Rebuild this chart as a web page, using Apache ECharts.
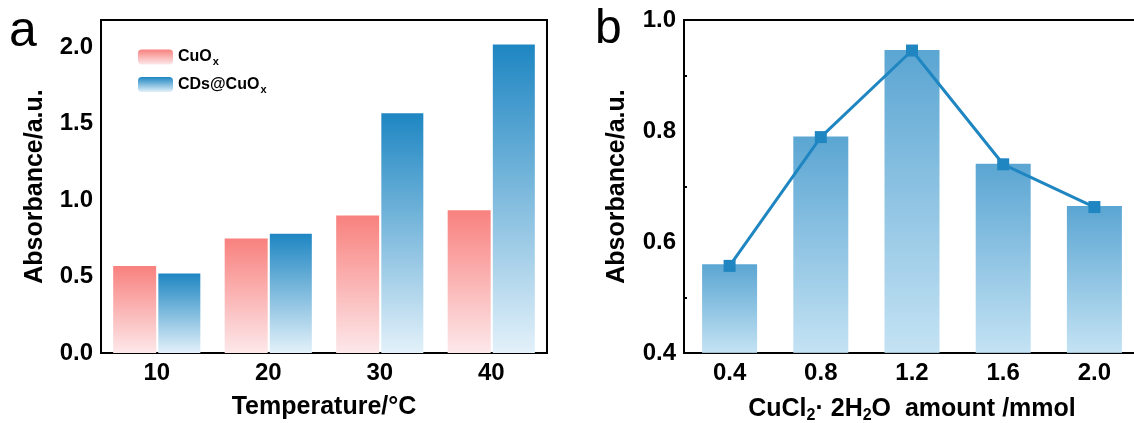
<!DOCTYPE html>
<html>
<head>
<meta charset="utf-8">
<script src="https://cdn.jsdelivr.net/npm/echarts@6/dist/echarts.min.js"></script>
<style>
  html, body { margin: 0; padding: 0; background: #fff; }
  #chart { width: 1134px; height: 423px; }
</style>
</head>
<body>
<div id="chart"></div>
<script>
'use strict';
// panel a
var temps = ['10', '20', '30', '40'];
var cuoxVals = [0.57, 0.75, 0.90, 0.935];
var cdsVals = [0.52, 0.78, 1.57, 2.02];
var yTicksA = [0, 0.5, 1.0, 1.5, 2.0];

// panel b
var amounts = ['0.4', '0.8', '1.2', '1.6', '2.0'];
var barVals = [0.560, 0.790, 0.946, 0.741, 0.665];
var lineVals = [0.557, 0.789, 0.945, 0.740, 0.663];
var yTicksB = [0.4, 0.6, 0.8, 1.0];

var FONT = 'Liberation Sans';

function grad(top, bottom) {
    return new echarts.graphic.LinearGradient(0, 0, 0, 1, [
        { offset: 0, color: top },
        { offset: 1, color: bottom }
    ]);
}

function init() {
    var chart = echarts.init(document.getElementById('chart'));
    var labelStyle = { fontFamily: FONT, fontWeight: 'bold', fontSize: 24, color: '#000' };
    var nameStyle = { fontFamily: FONT, fontWeight: 'bold', fontSize: 25, color: '#000' };
    var line = { show: true, onZero: false, lineStyle: { color: '#000', width: 2 } };

    var option = {
        animation: false,
        graphic: [
            { type: 'text', left: 9, top: 7, style: { text: 'a', font: '50px ' + FONT, fill: '#000' } },
            { type: 'text', left: 595, top: 6, style: { text: 'b', font: '48px ' + FONT, fill: '#000' } }
        ],
        legend: {
            orient: 'vertical',
            left: 133,
            top: 44,
            itemWidth: 35,
            itemHeight: 15,
            itemGap: 9,
            data: ['CuOx', 'CDs@CuOx'],
            formatter: function (n) {
                return n === 'CuOx' ? '{m|CuO}{s|x}' : '{m|CDs@CuO}{s|x}';
            },
            textStyle: {
                rich: {
                    m: { fontFamily: FONT, fontWeight: 'bold', fontSize: 16, color: '#000' },
                    s: { fontFamily: FONT, fontWeight: 'bold', fontSize: 11, color: '#000', padding: [10, 0, 0, 1] }
                }
            }
        },
        grid: [
            { left: 101, top: 20, width: 446, height: 333, show: true, borderColor: '#000', borderWidth: 2, outerBoundsMode: 'none' },
            { left: 684, top: 20, width: 456, height: 333, show: true, borderColor: '#000', borderWidth: 2, outerBoundsMode: 'none' }
        ],
        xAxis: [
            {
                type: 'category', gridIndex: 0, data: temps,
                axisLine: line,
                axisTick: { inside: true, alignWithLabel: true, length: 5, lineStyle: { color: '#000', width: 2 } },
                axisLabel: Object.assign({ margin: 8 }, labelStyle),
                name: 'Temperature/°C', nameLocation: 'middle', nameGap: 42, nameTextStyle: nameStyle
            },
            {
                type: 'category', gridIndex: 0, data: temps, position: 'bottom',
                axisLine: { show: false },
                axisTick: { inside: true, length: 3, lineStyle: { color: '#000', width: 2 } },
                axisLabel: { show: false }
            },
            {
                type: 'category', gridIndex: 1, data: amounts,
                axisLine: line,
                axisTick: { inside: true, alignWithLabel: true, length: 5, lineStyle: { color: '#000', width: 2 } },
                axisLabel: Object.assign({ margin: 8 }, labelStyle),
                name: '{m|CuCl}{s|2}{m|· 2H}{s|2}{m|O  amount /mmol}', nameLocation: 'middle', nameGap: 41,
                nameTextStyle: {
                    rich: {
                        m: nameStyle,
                        s: { fontFamily: FONT, fontWeight: 'bold', fontSize: 16, color: '#000', padding: [14, 0, 0, 0] }
                    }
                }
            },
            {
                type: 'category', gridIndex: 1, data: amounts, position: 'bottom',
                axisLine: { show: false },
                axisTick: { inside: true, length: 3, lineStyle: { color: '#000', width: 2 } },
                axisLabel: { show: false }
            }
        ],
        yAxis: [
            {
                type: 'value', gridIndex: 0, min: 0, max: 2.18, interval: 0.5,
                axisLine: line, splitLine: { show: false },
                axisTick: { inside: true, length: 5, lineStyle: { color: '#000', width: 2 } },
                axisLabel: Object.assign({
                    margin: 8,
                    formatter: function (v) {
                        return yTicksA.some(function (t) { return Math.abs(t - v) < 1e-6; }) ? v.toFixed(1) : '';
                    }
                }, labelStyle),
                name: 'Absorbance/a.u.', nameLocation: 'middle', nameGap: 53, nameTextStyle: nameStyle
            },
            {
                type: 'value', gridIndex: 0, min: 0, max: 2.18, interval: 0.25, position: 'left',
                axisLine: { show: false }, splitLine: { show: false }, axisLabel: { show: false },
                axisTick: { inside: true, length: 3, lineStyle: { color: '#000', width: 2 } }
            },
            {
                type: 'value', gridIndex: 1, min: 0.4, max: 1.0, interval: 0.2,
                axisLine: line, splitLine: { show: false },
                axisTick: { inside: true, length: 5, lineStyle: { color: '#000', width: 2 } },
                minorTick: { show: true, splitNumber: 2, length: 3, lineStyle: { color: '#000', width: 2 } },
                axisLabel: Object.assign({
                    margin: 8,
                    formatter: function (v) {
                        return yTicksB.some(function (t) { return Math.abs(t - v) < 1e-6; }) ? v.toFixed(1) : '';
                    }
                }, labelStyle),
                name: 'Absorbance/a.u.', nameLocation: 'middle', nameGap: 54, nameTextStyle: nameStyle
            }
        ],
        series: [
            {
                name: 'CuOx', type: 'bar', xAxisIndex: 0, yAxisIndex: 0,
                data: cuoxVals, barWidth: 43, barGap: '5%',
                itemStyle: { color: grad('#f8817e', '#fde8ea') }
            },
            {
                name: 'CDs@CuOx', type: 'bar', xAxisIndex: 0, yAxisIndex: 0,
                data: cdsVals, barWidth: 42, barGap: '5%',
                itemStyle: { color: grad('#1e86c2', '#e3f1fa') }
            },
            {
                name: 'bars', type: 'bar', xAxisIndex: 2, yAxisIndex: 2,
                data: barVals, barWidth: 55,
                itemStyle: { color: grad('#3e96cb', '#badef2'), opacity: 0.85 }
            },
            {
                name: 'trend', type: 'line', xAxisIndex: 2, yAxisIndex: 2,
                data: lineVals, symbol: 'rect', symbolSize: 12, z: 5,
                lineStyle: { color: '#1f86c1', width: 3 },
                itemStyle: { color: '#1f86c1' }
            }
        ]
    };
    chart.setOption(option);
}

(function () {
    init();
})();
</script>
</body>
</html>
